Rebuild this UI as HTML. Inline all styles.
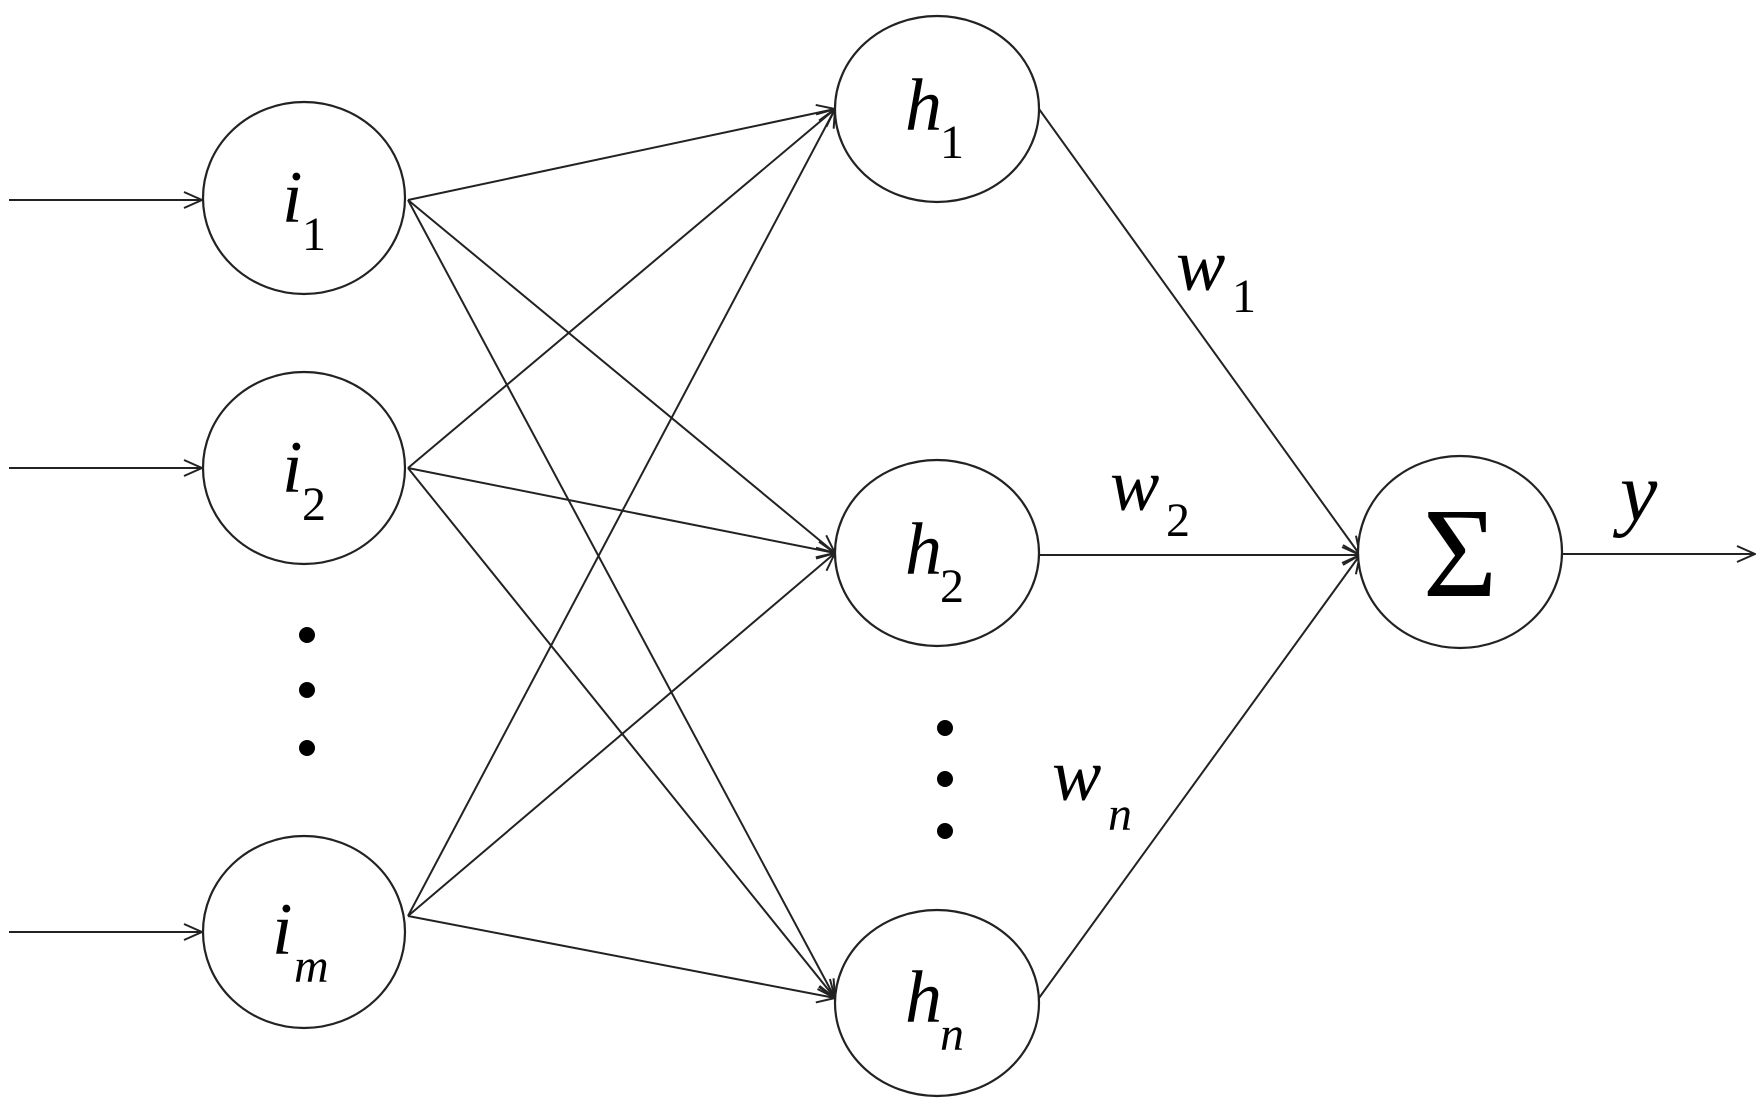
<!DOCTYPE html>
<html><head><meta charset="utf-8"><style>
html,body{margin:0;padding:0;background:#fff;}
svg{display:block;}
text{font-family:"Liberation Serif",serif;fill:#000;}
</style></head><body>
<svg width="1764" height="1106" viewBox="0 0 1764 1106" xmlns="http://www.w3.org/2000/svg">
<defs>
<marker id="a" viewBox="0 0 24 24" refX="23" refY="12" markerWidth="24" markerHeight="24" markerUnits="userSpaceOnUse" orient="auto">
<path d="M5,4 L23,12 L5,20" fill="none" stroke="#222" stroke-width="2"/>
</marker>
</defs>
<g stroke="#222" stroke-width="2" fill="none">
<line x1="9" y1="200" x2="202" y2="200" marker-end="url(#a)"/>
<line x1="9" y1="468" x2="202" y2="468" marker-end="url(#a)"/>
<line x1="9" y1="932" x2="202" y2="932" marker-end="url(#a)"/>
<line x1="408" y1="200" x2="835" y2="109" marker-end="url(#a)"/>
<line x1="408" y1="200" x2="835" y2="553" marker-end="url(#a)"/>
<line x1="408" y1="200" x2="835" y2="998" marker-end="url(#a)"/>
<line x1="408" y1="468" x2="835" y2="109" marker-end="url(#a)"/>
<line x1="408" y1="468" x2="835" y2="553" marker-end="url(#a)"/>
<line x1="408" y1="468" x2="835" y2="998" marker-end="url(#a)"/>
<line x1="408" y1="916" x2="835" y2="109" marker-end="url(#a)"/>
<line x1="408" y1="916" x2="835" y2="553" marker-end="url(#a)"/>
<line x1="408" y1="916" x2="835" y2="998" marker-end="url(#a)"/>
<line x1="1039" y1="109" x2="1360" y2="555" marker-end="url(#a)"/>
<line x1="1039" y1="555" x2="1360" y2="555" marker-end="url(#a)"/>
<line x1="1039" y1="998" x2="1360" y2="555" marker-end="url(#a)"/>
<line x1="1563" y1="554" x2="1755" y2="554" marker-end="url(#a)"/>
</g>
<g stroke="#222" stroke-width="2.2" fill="#fff">
<ellipse cx="304" cy="198" rx="101" ry="96"/>
<ellipse cx="304" cy="468" rx="101" ry="96"/>
<ellipse cx="304" cy="932" rx="101" ry="96"/>
<ellipse cx="937" cy="109" rx="102" ry="93"/>
<ellipse cx="937" cy="553" rx="102" ry="93"/>
<ellipse cx="937" cy="1003" rx="102" ry="93"/>
<ellipse cx="1460" cy="552" rx="102" ry="96"/>
</g>
<g fill="#000">
<circle cx="307" cy="635" r="8"/><circle cx="307" cy="690" r="8"/><circle cx="307" cy="748" r="8"/>
<circle cx="945" cy="728" r="8"/><circle cx="945" cy="779" r="8"/><circle cx="945" cy="831" r="8"/>
</g>
<g font-style="italic" font-size="74">
<text x="282" y="222">i</text><text x="302" y="250" font-size="48" font-style="normal">1</text>
<text x="282" y="492">i</text><text x="302" y="520" font-size="48" font-style="normal">2</text>
<text x="272" y="954">i</text><text x="294" y="982" font-size="48">m</text>
<text x="905" y="130">h</text><text x="940" y="158" font-size="48" font-style="normal">1</text>
<text x="905" y="574">h</text><text x="940" y="602" font-size="48" font-style="normal">2</text>
<text x="905" y="1022">h</text><text x="940" y="1050" font-size="48">n</text>
<text x="1176" y="290">w</text><text x="1232" y="312" font-size="48" font-style="normal">1</text>
<text x="1110" y="510">w</text><text x="1166" y="536" font-size="48" font-style="normal">2</text>
<text x="1052" y="800">w</text><text x="1108" y="830" font-size="48">n</text>
<text x="1620" y="520" font-size="84">y</text>
</g>
<text x="1460" y="596" font-size="128" text-anchor="middle">Σ</text>
</svg>
</body></html>
